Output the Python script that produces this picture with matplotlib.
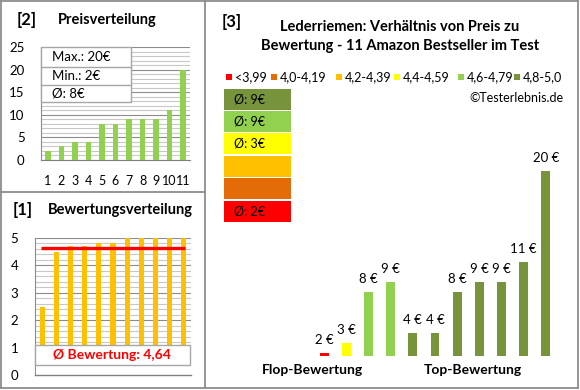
import numpy as np
import matplotlib
matplotlib.use("Agg")
import matplotlib.pyplot as plt
from matplotlib.patches import Rectangle
from matplotlib.lines import Line2D
from matplotlib.transforms import Affine2D

plt.rcParams['font.family'] = ['Lato', 'DejaVu Sans']

# data
prices_sorted = [2, 3, 4, 4, 8, 8, 9, 9, 9, 11, 20]
ratings_sorted = [2.5, 4.5, 4.7, 4.7, 4.8, 4.8, 5.0, 5.0, 5.0, 5.0, 5.0]
bar_prices = [2, 3, 8, 9, 4, 4, 8, 9, 9, 11, 20]
bar_ratings = [2.5, 4.5, 4.7, 4.7, 4.8, 4.8, 5.0, 5.0, 5.0, 5.0, 5.0]
class_labels = ["<3,99", "4,0-4,19", "4,2-4,39", "4,4-4,59", "4,6-4,79", "4,8-5,0"]
class_edges = [4.0, 4.2, 4.4, 4.6, 4.8]
class_colors = ["#FF0000", "#E36C09", "#FFC000", "#FFFF00", "#92D050", "#77933C"]
product_nums = list(range(1, 12))

W, H = 580, 390
fig = plt.figure(figsize=(W / 100, H / 100), dpi=100)
fig.patch.set_facecolor("white")
pix = Affine2D().scale(1 / W, -1 / H).translate(0, 1) + fig.transFigure


def px(x0, y0, x1, y1):
    return [x0 / W, 1 - y1 / H, (x1 - x0) / W, (y1 - y0) / H]


def rnd(v):
    return int(v + 0.5)


def cls(r):
    return int(np.searchsorted(class_edges, r, side="right"))


# frame lines
frame = "#8C8C8C"
for xs, ys in [([1, 578], [1, 1]), ([1, 578], [388, 388]), ([1, 1], [1, 388]),
               ([578, 578], [1, 388]), ([205, 205], [1, 388]), ([1, 205], [192, 192])]:
    fig.add_artist(Line2D(xs, ys, color=frame, lw=1.3, transform=pix))

# ---- [2] Preisverteilung
ax2 = fig.add_axes(px(41.25, 47, 189.75, 160))
ax2.bar(product_nums, prices_sorted, width=0.38, color="#92D050", zorder=3)
ax2.set_xlim(0.5, 11.5)
ax2.set_ylim(0, 25)
ax2.set_yticks(range(0, 26, 5))
ax2.set_yticks(range(0, 26), minor=True)
ax2.set_xticks(product_nums)
ax2.grid(which="minor", axis="y", color="#C8C8C8", lw=0.8, zorder=0)
ax2.grid(which="major", axis="y", color="#8C8C8C", lw=0.8, zorder=1)
ax2.tick_params(which="both", length=0, labelsize=9.5)
ax2.tick_params(axis="x", pad=11, labelsize=9)
ax2.tick_params(axis="y", pad=12)
for s in ["top", "right"]:
    ax2.spines[s].set_visible(False)
ax2.spines["left"].set_color("#8C8C8C")
ax2.spines["bottom"].set_color("#7F7F7F")
ax2.spines["left"].set_linewidth(0.8)

fig.text(17, 20, "[2]", transform=pix, fontsize=12, fontweight="bold", va="center")
fig.text(58, 20, "Preisverteilung", transform=pix, fontsize=10.5, fontweight="bold", va="center")

# stats box
fig.add_artist(Rectangle((41, 47), 90, 55, transform=pix, facecolor="white",
                         edgecolor="#A6A6A6", lw=1))
for yy in [67, 85]:
    fig.add_artist(Line2D([41, 131], [yy, yy], color="#A6A6A6", lw=1, transform=pix))
stats = ["Max.: %d€" % max(prices_sorted), "Min.: %d€" % min(prices_sorted),
         "Ø: %d€" % rnd(np.mean(prices_sorted))]
for t, yy in zip(stats, [57, 76, 94]):
    fig.text(52, yy, t, transform=pix, fontsize=9.5, va="center")

# ---- [1] Bewertungsverteilung
ax1 = fig.add_axes(px(35, 238, 191, 375))
ax1.bar(product_nums, ratings_sorted, width=0.36, color="#FFC000", zorder=3)
avg_rating = np.mean(ratings_sorted)
ax1.hlines(avg_rating, 0.9, 11.1, color="#FF0000", lw=2.4, zorder=4)
ax1.set_xlim(0.5, 11.5)
ax1.set_ylim(0, 5)
ax1.set_yticks(range(0, 6))
ax1.set_yticks(np.arange(0, 5.01, 0.2), minor=True)
ax1.set_xticks([])
ax1.grid(which="minor", axis="y", color="#C8C8C8", lw=0.8, zorder=0)
ax1.grid(which="major", axis="y", color="#8C8C8C", lw=0.8, zorder=1)
ax1.tick_params(which="both", length=0, labelsize=9.5, pad=12)
for s in ["top", "right", "bottom"]:
    ax1.spines[s].set_visible(False)
ax1.spines["left"].set_color("#8C8C8C")
ax1.spines["left"].set_linewidth(0.8)

fig.text(13, 210, "[1]", transform=pix, fontsize=12, fontweight="bold", va="center")
fig.text(48, 210, "Bewertungsverteilung", transform=pix, fontsize=10.5, fontweight="bold", va="center")
# white cover below the box, then the box itself and the base line
fig.add_artist(Rectangle((35.5, 345), 155.5, 31, transform=pix, facecolor="white",
                         edgecolor="none"))
fig.add_artist(Line2D([35, 191], [375, 375], color="#7F7F7F", lw=1, transform=pix))
fig.add_artist(Rectangle((35, 345), 155, 20, transform=pix, facecolor="white",
                         edgecolor="#A6A6A6", lw=1))
fig.text(112, 355, "Ø Bewertung: " + ("%.2f" % avg_rating).replace(".", ","),
         transform=pix, fontsize=10, fontweight="bold", color="#FF0000", ha="center", va="center")

# ---- [3] Preis zu Bewertung
ax3 = fig.add_axes(px(313, 151, 557, 356))
bar_colors = [class_colors[cls(r)] for r in bar_ratings]
xs = np.arange(len(bar_prices))
ax3.bar(xs, bar_prices, width=0.4, color=bar_colors)
ax3.set_xlim(-0.5, 10.5)
ax3.set_ylim(1.7, 22)
ax3.axis("off")
for x, p in zip(xs, bar_prices):
    ax3.annotate("%d €" % p, (x, p), xytext=(0, 5), textcoords="offset points",
                 ha="center", va="bottom", fontsize=9.5, annotation_clip=False)

fig.text(222, 22, "[3]", transform=pix, fontsize=12, fontweight="bold", va="center")
fig.text(400, 27, "Lederriemen: Verhältnis von Preis zu", transform=pix,
         fontsize=10.5, fontweight="bold", ha="center", va="center")
fig.text(400, 46, "Bewertung - 11 Amazon Bestseller im Test", transform=pix,
         fontsize=10.5, fontweight="bold", ha="center", va="center")
fig.text(312, 370, "Flop-Bewertung", transform=pix, fontsize=10, fontweight="bold",
         ha="center", va="center")
fig.text(473, 370, "Top-Bewertung", transform=pix, fontsize=10, fontweight="bold",
         ha="center", va="center")
fig.text(563, 98, "©Testerlebnis.de", transform=pix, fontsize=9, ha="right", va="center")

# legend row
leg_x = [226, 271, 336, 394, 458, 514]
for lx, lab, c in zip(leg_x, class_labels, class_colors):
    fig.add_artist(Rectangle((lx, 74), 6, 6, transform=pix, facecolor=c, edgecolor="none"))
    fig.text(lx + 9, 77.5, lab, transform=pix, fontsize=9, va="center")

# class average boxes (top class first)
box_tops = [89, 111, 133, 156, 178, 201]
for i, top in enumerate(box_tops):
    k = len(class_colors) - 1 - i
    fig.add_artist(Rectangle((224, top), 67, 20.5, transform=pix,
                             facecolor=class_colors[k], edgecolor="none"))
    vals = [p for p, r in zip(bar_prices, bar_ratings) if cls(r) == k]
    if vals:
        fig.text(234, top + 10.5, "Ø: %d€" % rnd(np.mean(vals)), transform=pix,
                 fontsize=9, va="center")

fig.savefig("out.png", dpi=100)
